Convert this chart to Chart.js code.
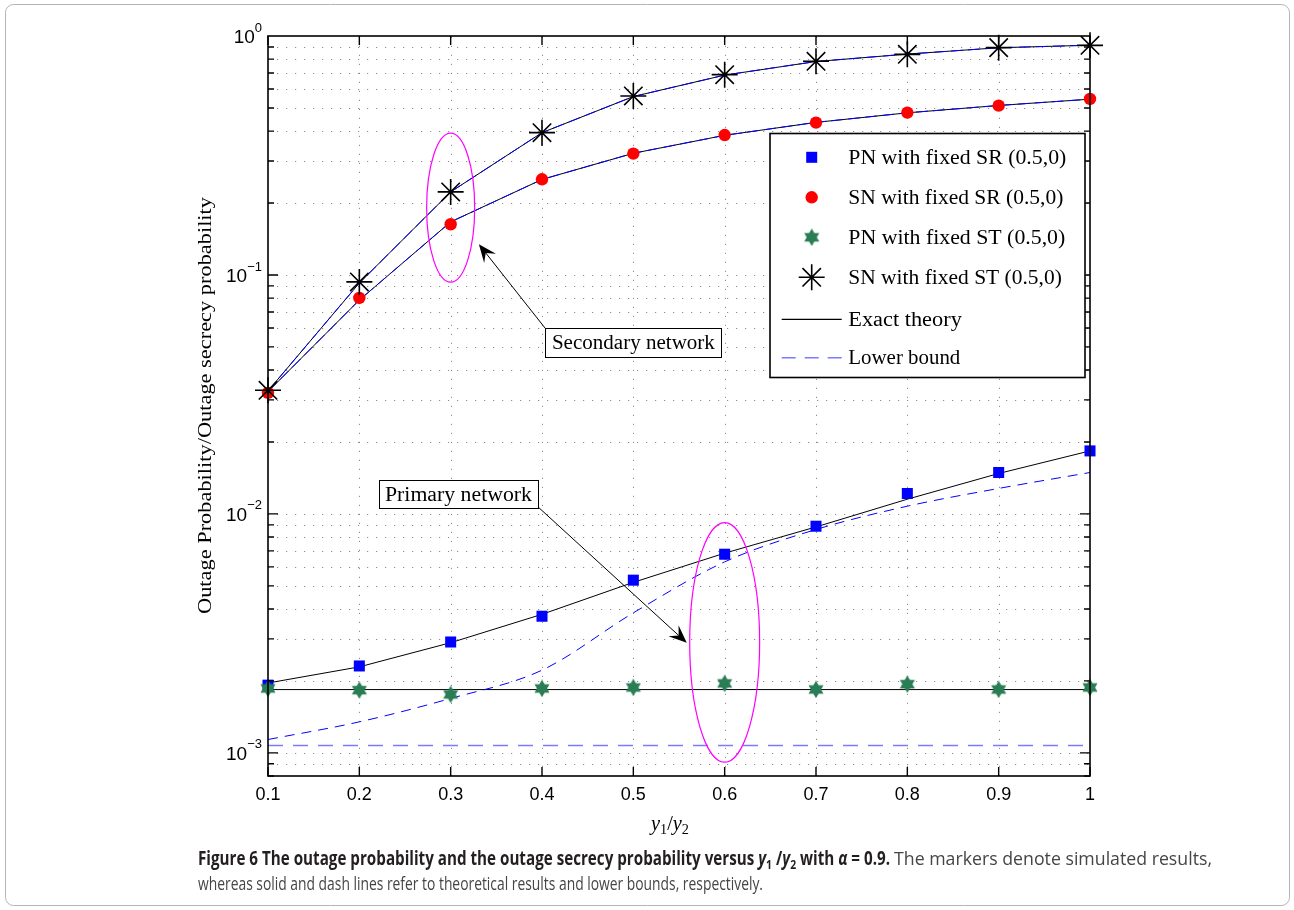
<!DOCTYPE html>
<html>
<head>
<meta charset="utf-8">
<script src="https://cdn.jsdelivr.net/npm/chart.js@4.4.1/dist/chart.umd.min.js"></script>
<style>
  html, body { margin: 0; padding: 0; background: #fff; }
  #wrap { position: relative; width: 1294px; height: 910px; }
</style>
</head>
<body>
<div id="wrap"><canvas id="c"></canvas></div>
<script>
// ---- data: y1/y2 ratio on the x axis ----
const ratios = [0.1, 0.2, 0.3, 0.4, 0.5, 0.6, 0.7, 0.8, 0.9, 1.0];
const xTickLabels = ['0.1', '0.2', '0.3', '0.4', '0.5', '0.6', '0.7', '0.8', '0.9', '1'];
const yDecades = [1e-3, 1e-2, 1e-1, 1];
const yDecadeExponents = ['\u22123', '\u22122', '\u22121', '0'];
const yMinorSteps = [1, 2, 3, 4, 5, 6, 7, 8, 9];

// primary network, fixed SR
const pnSrSim    = [0.00192, 0.00231, 0.00291, 0.00373, 0.00528, 0.00678, 0.00888, 0.01217, 0.01490, 0.01835];
const pnSrTheory = [0.00196, 0.00229, 0.00289, 0.00380, 0.00517, 0.00685, 0.00882, 0.01152, 0.01476, 0.01835];
const pnSrBound  = [0.001137, 0.001348, 0.001689, 0.002218, 0.003853, 0.006297, 0.008604, 0.01077, 0.01278, 0.01490];
// secondary network, fixed SR
const snSrSim    = [0.0321, 0.0801, 0.163, 0.2514, 0.322, 0.385, 0.434, 0.478, 0.511, 0.545];
const snSrTheory = [0.0325, 0.0785, 0.1667, 0.251, 0.323, 0.384, 0.435, 0.477, 0.512, 0.544];
const snSrBound  = [0.0325, 0.0785, 0.1667, 0.251, 0.323, 0.384, 0.435, 0.477, 0.512, 0.544];
// primary network, fixed ST
const pnStSim    = [0.00186, 0.00183, 0.001756, 0.00186, 0.001878, 0.001952, 0.001842, 0.001939, 0.001842, 0.001878];
const pnStTheory = [0.00184, 0.00184, 0.00184, 0.00184, 0.00184, 0.00184, 0.00184, 0.00184, 0.00184, 0.00184];
const pnStBound  = [0.001073, 0.001073, 0.001073, 0.001073, 0.001073, 0.001073, 0.001073, 0.001073, 0.001073, 0.001073];
// secondary network, fixed ST
const snStSim    = [0.0329, 0.0935, 0.2226, 0.394, 0.561, 0.689, 0.784, 0.838, 0.894, 0.914];
const snStTheory = [0.0327, 0.0925, 0.2226, 0.394, 0.558, 0.686, 0.782, 0.840, 0.893, 0.915];
const snStBound  = [0.0327, 0.0925, 0.2226, 0.394, 0.558, 0.686, 0.782, 0.840, 0.893, 0.915];

const legendLabels = [
  'PN with fixed SR (0.5,0)',
  'SN with fixed SR (0.5,0)',
  'PN with fixed ST (0.5,0)',
  'SN with fixed ST (0.5,0)',
  'Exact theory',
  'Lower bound'
];

// ---- styling ----
const BLUE = '#0000ff';
const RED = '#ff0000';
const GREEN = '#2a7d55';
const LIGHT_BLUE = '#7b7bff';
const SERIF = '"Liberation Serif", "DejaVu Serif", serif';
const SANS = '"Liberation Sans", Arial, sans-serif';
const CAPTION = '"Open Sans", "Noto Sans", sans-serif';

// six-pointed star used for the PN / fixed ST markers
function hexagram(size, color) {
  const c = document.createElement('canvas');
  c.width = size; c.height = size;
  const g = c.getContext('2d');
  const r = size / 2 - 0.3, cx = size / 2, cy = size / 2;
  g.fillStyle = color;
  [-90, 90].forEach(start => {
    g.beginPath();
    for (let k = 0; k < 3; k++) {
      const a = (start + k * 120) * Math.PI / 180;
      const px = cx + r * Math.cos(a), py = cy + r * Math.sin(a);
      if (k === 0) g.moveTo(px, py); else g.lineTo(px, py);
    }
    g.closePath();
    g.fill();
  });
  return c;
}
const hexMarker = hexagram(18, GREEN);

const pts = arr => ratios.map((x, i) => ({ x: x, y: arr[i] }));

function markerSet(label, arr, style, extra) {
  return Object.assign({
    label: label, data: pts(arr), showLine: false, pointStyle: style,
    clip: false, order: 0
  }, extra);
}
function lineSet(label, arr, extra) {
  return Object.assign({
    label: label, data: pts(arr), pointRadius: 0, pointHoverRadius: 0,
    borderWidth: 1, tension: 0, fill: false, order: 5
  }, extra);
}

const datasets = [
  markerSet(legendLabels[0], pnSrSim, 'rect', { pointRadius: 7.8, backgroundColor: BLUE, borderColor: BLUE, borderWidth: 0 }),
  markerSet(legendLabels[1], snSrSim, 'circle', { pointRadius: 6.2, backgroundColor: RED, borderColor: RED, borderWidth: 0 }),
  markerSet(legendLabels[2], pnStSim, hexMarker, { pointRadius: 9, order: -2 }),
  markerSet(legendLabels[3], snStSim, 'star', { pointRadius: 13, backgroundColor: 'rgba(0,0,0,0)', borderColor: '#000', borderWidth: 1.6, order: -1 }),
  // lower bounds drawn over the exact curves
  lineSet('lb-sn-st', snStBound, { borderColor: BLUE, borderDash: [12, 5], order: 3 }),
  lineSet('lb-sn-sr', snSrBound, { borderColor: BLUE, borderDash: [12, 5], order: 3 }),
  lineSet('lb-pn-sr', pnSrBound, { borderColor: BLUE, borderDash: [10, 7], cubicInterpolationMode: 'monotone', order: 3 }),
  lineSet('lb-pn-st', pnStBound, { borderColor: LIGHT_BLUE, borderWidth: 1.6, borderDash: [15, 10], order: 3 }),
  // exact theory
  lineSet('th-sn-st', snStTheory, { borderColor: '#000' }),
  lineSet('th-sn-sr', snSrTheory, { borderColor: '#000' }),
  lineSet('th-pn-sr', pnSrTheory, { borderColor: '#000' }),
  lineSet('th-pn-st', pnStTheory, { borderColor: '#000' })
];

// ---- drawing helpers ----
function fitText(ctx, str, x, y, width, font, align) {
  ctx.font = font;
  const nat = ctx.measureText(str).width;
  ctx.save();
  ctx.translate(x, y);
  ctx.scale(width / nat, 1);
  ctx.textAlign = align || 'left';
  ctx.fillText(str, 0, 0);
  ctx.restore();
}

function richLine(ctx, segs, x, y, width) {
  let total = 0;
  segs.forEach(s => { ctx.font = s.font; s.w = ctx.measureText(s.t).width; total += s.w; });
  const k = width / total;
  ctx.save();
  ctx.translate(x, y);
  ctx.scale(k, 1);
  ctx.textAlign = 'left';
  ctx.textBaseline = 'alphabetic';
  let cx = 0;
  segs.forEach(s => {
    ctx.font = s.font;
    ctx.fillStyle = s.c || '#000';
    ctx.fillText(s.t, cx, s.dy || 0);
    cx += s.w;
  });
  ctx.restore();
}

function arrow(ctx, x0, y0, x1, y1) {
  const ang = Math.atan2(y1 - y0, x1 - x0);
  const L = 18, W = 7.5, N = 11;
  ctx.beginPath();
  ctx.moveTo(x0, y0);
  ctx.lineTo(x1 - Math.cos(ang) * N, y1 - Math.sin(ang) * N);
  ctx.stroke();
  ctx.save();
  ctx.translate(x1, y1);
  ctx.rotate(ang);
  ctx.beginPath();
  ctx.moveTo(0, 0);
  ctx.lineTo(-L, -W);
  ctx.lineTo(-N, 0);
  ctx.lineTo(-L, W);
  ctx.closePath();
  ctx.fill();
  ctx.restore();
}

function asterisk(ctx, x, y, r) {
  const d = r * Math.SQRT1_2;
  ctx.beginPath();
  ctx.moveTo(x, y - r); ctx.lineTo(x, y + r);
  ctx.moveTo(x - r, y); ctx.lineTo(x + r, y);
  ctx.moveTo(x - d, y - d); ctx.lineTo(x + d, y + d);
  ctx.moveTo(x - d, y + d); ctx.lineTo(x + d, y - d);
  ctx.stroke();
}

const yGridValues = [];
[1e-4, 1e-3, 1e-2, 1e-1].forEach(d => yMinorSteps.forEach(m => yGridValues.push(d * m)));

// grid behind the data
const gridPlugin = {
  id: 'matlabGrid',
  beforeDatasetsDraw(chart) {
    const { ctx, chartArea: a, scales: { x, y } } = chart;
    ctx.save();
    ctx.strokeStyle = '#8c8c8c';
    ctx.lineWidth = 1;
    ctx.setLineDash([1.2, 7.8]);
    ratios.forEach(v => {
      const px = Math.round(x.getPixelForValue(v)) + 0.5;
      if (px < a.left + 2 || px > a.right - 2) return;
      ctx.beginPath(); ctx.moveTo(px, a.bottom); ctx.lineTo(px, a.top); ctx.stroke();
    });
    yGridValues.forEach(v => {
      const py = Math.round(y.getPixelForValue(v)) + 0.5;
      if (py < a.top + 2 || py > a.bottom - 2) return;
      ctx.beginPath(); ctx.moveTo(a.left, py); ctx.lineTo(a.right, py); ctx.stroke();
    });
    ctx.restore();
  }
};

// frame, ticks, labels, legend, annotations and caption
const decorPlugin = {
  id: 'decor',
  afterDraw(chart) {
    const { ctx, chartArea: a, scales: { x, y } } = chart;
    ctx.save();

    // axes box
    ctx.strokeStyle = '#000';
    ctx.lineWidth = 1.6;
    ctx.setLineDash([]);
    ctx.strokeRect(a.left, a.top, a.right - a.left, a.bottom - a.top);

    // inward ticks
    ctx.lineWidth = 1.4;
    ratios.forEach(v => {
      const px = x.getPixelForValue(v);
      ctx.beginPath();
      ctx.moveTo(px, a.bottom); ctx.lineTo(px, a.bottom - 9);
      ctx.moveTo(px, a.top); ctx.lineTo(px, a.top + 9);
      ctx.stroke();
    });
    yGridValues.forEach(v => {
      const py = y.getPixelForValue(v);
      if (py < a.top - 0.5 || py > a.bottom + 0.5) return;
      const major = yDecades.some(d => Math.abs(d - v) / d < 1e-9);
      const len = major ? 10 : 6;
      ctx.beginPath();
      ctx.moveTo(a.left, py); ctx.lineTo(a.left + len, py);
      ctx.moveTo(a.right, py); ctx.lineTo(a.right - len, py);
      ctx.stroke();
    });

    // x tick labels
    ctx.fillStyle = '#000';
    ctx.font = '18px ' + SANS;
    ctx.textAlign = 'center';
    ctx.textBaseline = 'middle';
    ratios.forEach((v, i) => ctx.fillText(xTickLabels[i], x.getPixelForValue(v), 795));

    // y tick labels: 10 with superscript exponent
    yDecades.forEach((d, i) => {
      const py = y.getPixelForValue(d);
      ctx.font = '19px ' + SANS;
      const wBase = ctx.measureText('10').width;
      ctx.font = '13px ' + SANS;
      const wExp = ctx.measureText(yDecadeExponents[i]).width;
      const right = a.left - 6;
      ctx.textAlign = 'left';
      ctx.textBaseline = 'middle';
      ctx.font = '19px ' + SANS;
      ctx.fillText('10', right - wBase - wExp, py + 2);
      ctx.font = '13px ' + SANS;
      ctx.fillText(yDecadeExponents[i], right - wExp, py - 8);
    });

    // axis titles
    ctx.save();
    ctx.translate(206, 405.5);
    ctx.rotate(-Math.PI / 2);
    ctx.textBaseline = 'middle';
    fitText(ctx, 'Outage Probability/Outage secrecy probability', 0, 0, 417, '19px ' + SERIF, 'center');
    ctx.restore();

    ctx.textBaseline = 'alphabetic';
    const it = 'italic 20px ' + SERIF, sub = '14px ' + SERIF, rom = '20px ' + SERIF;
    richLine(ctx, [
      { t: 'y', font: it }, { t: '1', font: sub, dy: 4 }, { t: '/', font: rom },
      { t: 'y', font: it }, { t: '2', font: sub, dy: 4 }
    ], 651, 830, 38);

    // annotation ellipses
    ctx.strokeStyle = '#ff00ff';
    ctx.lineWidth = 1.2;
    [
      { cx: 0.3, top: 0.392, bottom: 0.0933, dx: 0.0263 },
      { cx: 0.6, top: 0.0092, bottom: 0.000914, dx: 0.0383 }
    ].forEach(e => {
      const px = x.getPixelForValue(e.cx);
      const rx = x.getPixelForValue(e.cx + e.dx) - px;
      const t = y.getPixelForValue(e.top), b = y.getPixelForValue(e.bottom);
      ctx.beginPath();
      ctx.ellipse(px, (t + b) / 2, rx, (b - t) / 2, 0, 0, Math.PI * 2);
      ctx.stroke();
    });

    // annotation arrows and text boxes
    ctx.strokeStyle = '#000';
    ctx.fillStyle = '#000';
    ctx.lineWidth = 1;
    const sFrom = { x: x.getPixelForValue(0.4037), y: y.getPixelForValue(0.0597) };
    const sTo = { x: x.getPixelForValue(0.3309), y: y.getPixelForValue(0.1344) };
    const pFrom = { x: x.getPixelForValue(0.3956), y: y.getPixelForValue(0.0107) };
    const pTo = { x: x.getPixelForValue(0.5585), y: y.getPixelForValue(0.002886) };
    arrow(ctx, sFrom.x, sFrom.y, sTo.x, sTo.y);
    arrow(ctx, pFrom.x, pFrom.y, pTo.x, pTo.y);

    function textBox(left, top, w, h, str, tw) {
      ctx.fillStyle = '#fff';
      ctx.fillRect(left, top, w, h);
      ctx.strokeStyle = '#000';
      ctx.lineWidth = 1;
      ctx.strokeRect(Math.round(left) + 0.5, Math.round(top) + 0.5, w, h);
      ctx.fillStyle = '#000';
      ctx.textBaseline = 'middle';
      fitText(ctx, str, left + w / 2, top + h / 2 + 1, tw, '20px ' + SERIF, 'center');
    }
    textBox(sFrom.x, sFrom.y, 176, 29, 'Secondary network', 163);
    textBox(pFrom.x - 159, pFrom.y - 26.5, 159, 28, 'Primary network', 147);

    // legend
    const lg = { left: 770, top: 133.5, right: 1085, bottom: 377.5 };
    ctx.fillStyle = '#fff';
    ctx.fillRect(lg.left, lg.top, lg.right - lg.left, lg.bottom - lg.top);
    ctx.strokeStyle = '#000';
    ctx.lineWidth = 1.6;
    ctx.strokeRect(lg.left, lg.top, lg.right - lg.left, lg.bottom - lg.top);
    const rows = [157.3, 197.3, 237.3, 277.3, 319.3, 357.7];
    const widths = [218, 215, 217, 213.5, 113.5, 112];
    const mx = 811.7;
    // markers
    ctx.fillStyle = BLUE;
    ctx.fillRect(mx - 5.5, rows[0] - 5.5, 11, 11);
    ctx.fillStyle = RED;
    ctx.beginPath(); ctx.arc(mx, rows[1], 6.2, 0, Math.PI * 2); ctx.fill();
    ctx.drawImage(hexMarker, mx - 9, rows[2] - 9);
    ctx.strokeStyle = '#000';
    ctx.lineWidth = 1.6;
    asterisk(ctx, mx, rows[3], 13);
    ctx.lineWidth = 1.3;
    ctx.beginPath(); ctx.moveTo(781.7, rows[4]); ctx.lineTo(841.7, rows[4]); ctx.stroke();
    ctx.strokeStyle = LIGHT_BLUE;
    ctx.lineWidth = 1.6;
    ctx.setLineDash([14, 9]);
    ctx.beginPath(); ctx.moveTo(781.7, rows[5]); ctx.lineTo(841.7, rows[5]); ctx.stroke();
    ctx.setLineDash([]);
    ctx.fillStyle = '#000';
    ctx.textBaseline = 'middle';
    legendLabels.forEach((s, i) => fitText(ctx, s, 848.3, rows[i] + 1, widths[i], '20px ' + SERIF, 'left'));

    // caption
    const B = 'bold 19px ' + CAPTION, BI = 'italic bold 19px ' + CAPTION, BS = 'bold 13px ' + CAPTION;
    const R = '19px ' + CAPTION;
    const DARK = '#231f20', GREY = '#454545';
    richLine(ctx, [
      { t: 'Figure 6 The outage probability and the outage secrecy probability versus ', font: B, c: DARK },
      { t: 'y', font: BI, c: DARK }, { t: '1', font: BS, dy: 4, c: DARK },
      { t: ' /', font: B, c: DARK },
      { t: 'y', font: BI, c: DARK }, { t: '2', font: BS, dy: 4, c: DARK },
      { t: ' with ', font: B, c: DARK }, { t: '\u03b1', font: BI, c: DARK },
      { t: ' = 0.9.', font: B, c: DARK }
    ], 198, 865, 692);
    richLine(ctx, [
      { t: 'The markers denote simulated results,', font: R, c: GREY }
    ], 894, 865, 318);
    richLine(ctx, [
      { t: 'whereas solid and dash lines refer to theoretical results and lower bounds, respectively.', font: R, c: GREY }
    ], 198, 890, 565);

    // outer panel outline
    ctx.strokeStyle = '#b4b4b4';
    ctx.lineWidth = 1;
    const L = 5.5, T = 4.5, Rr = 1289.5, Bt = 905.5, rad = 8;
    ctx.beginPath();
    ctx.moveTo(L + rad, T);
    ctx.lineTo(Rr - rad, T); ctx.arcTo(Rr, T, Rr, T + rad, rad);
    ctx.lineTo(Rr, Bt - rad); ctx.arcTo(Rr, Bt, Rr - rad, Bt, rad);
    ctx.lineTo(L + rad, Bt); ctx.arcTo(L, Bt, L, Bt - rad, rad);
    ctx.lineTo(L, T + rad); ctx.arcTo(L, T, L + rad, T, rad);
    ctx.closePath();
    ctx.stroke();

    ctx.restore();
  }
};

new Chart(document.getElementById('c'), {
  type: 'line',
  data: { datasets: datasets },
  options: {
    responsive: true,
    maintainAspectRatio: false,
    animation: false,
    events: [],
    layout: { padding: { left: 268, top: 36, right: 204, bottom: 134 } },
    plugins: { legend: { display: false }, tooltip: { enabled: false } },
    scales: {
      x: { type: 'linear', min: 0.1, max: 1, display: false },
      y: { type: 'logarithmic', min: 8e-4, max: 1, display: false }
    }
  },
  plugins: [gridPlugin, decorPlugin]
});
</script>
</body>
</html>
